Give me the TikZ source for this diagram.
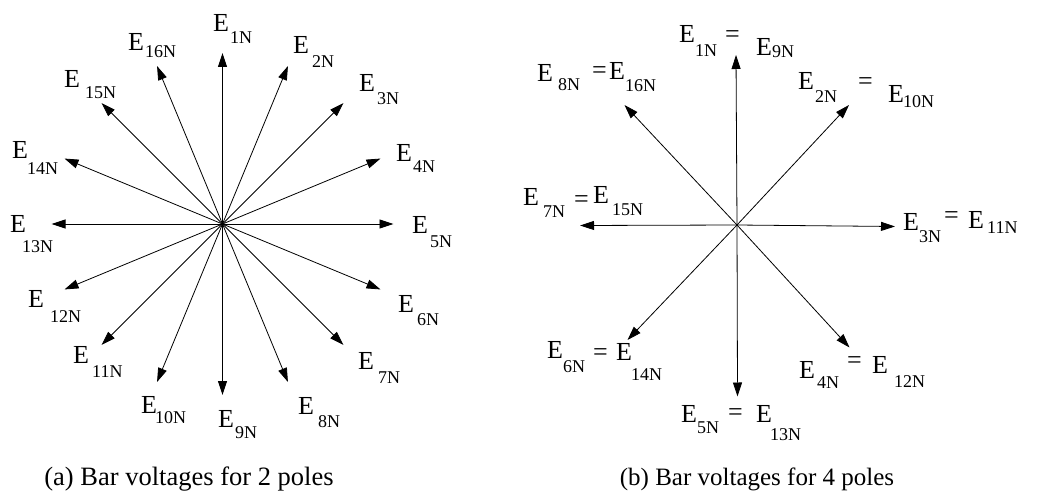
\documentclass[tikz,border=0pt]{standalone}
\usepackage{fontspec}
\setmainfont{Liberation Serif}
\usetikzlibrary{arrows.meta}
\begin{document}
\begin{tikzpicture}[x=1pt,y=-1pt,
  arr/.style={-{Triangle[length=14pt,width=9pt]}, line width=0.8pt},
  bigt/.style={font=\fontsize{26}{26}\selectfont, inner sep=0pt, anchor=base west},
  subt/.style={font=\fontsize{18}{18}\selectfont, inner sep=0pt, anchor=base west},
  capt/.style={inner sep=0pt, anchor=base}]
\useasboundingbox (0,0) rectangle (1064,497);
% ---------- (a) two poles ----------
\coordinate (c1) at (222.5,224);
\foreach \k in {1,...,16}{
  \coordinate (a\k) at ([shift={({-90+22.5*(\k-1)}:171)}]c1);
  \draw[arr] (c1) -- (a\k);
}
\foreach \k/\ex/\ey/\sx/\sy in {
  1/213/32/230/44, 2/293/54/312/68, 3/359/92/377/105, 4/396/162/413/172,
  5/412/233/430/247, 6/398/312/417/325, 7/358/369/378/383, 8/298/414/318/427,
  9/218/427/235/438, 10/141/413/155/423, 11/73/363/92/377, 12/28/307/50/322,
  13/10/232/22/252, 14/12/159/27/175, 15/64/88/85/99, 16/128/51/145/58}{
  \node[bigt] (aE\k) at (\ex,\ey) {E};
  \node[subt] (aS\k) at (\sx,\sy) {\k N};
}
\node[capt, font=\fontsize{26.5}{26.5}\selectfont] (capA) at (189,485) {(a) Bar voltages for 2 poles};
% ---------- (b) four poles ----------
\coordinate (c2) at (737,225);
\coordinate (b1) at (736,55);
\coordinate (b2) at (849,105);
\coordinate (b3) at (895,226.5);
\coordinate (b4) at (849.5,347.5);
\coordinate (b5) at (737.5,396.5);
\coordinate (b6) at (627.5,340);
\coordinate (b7) at (580,225.5);
\coordinate (b8) at (624.5,105);
\foreach \k in {1,...,8}{ \draw[arr] (c2) -- (b\k); }
\foreach \k/\ax/\ay/\sx/\sy/\sa/\qx/\qy/\bx/\by/\tx/\ty/\sb in {
  1/679/43/695/57/1N/725/43/756/56/772/58/9N,
  8/537/82/558/91/8N/592/79/609/80/625/92/16N,
  2/798/90/815/103/2N/858/90/888/103/903/108/10N,
  7/523/205/543/217/7N/574/207/593/203/612/215/15N,
  3/903/230/919/242/3N/944/223/968/228/987/233/11N,
  6/547/358/563/372/6N/593/360/616/360/631/380/14N,
  5/681/422/697/433/5N/728/420/756/422/770/440/13N,
  4/799/378/817/388/4N/847/368/872/373/894/387/12N}{
  \node[bigt] (bE\k) at (\ax,\ay) {E};
  \node[subt] (bS\k) at (\sx,\sy) {\sa};
  \node[bigt] (bQ\k) at (\qx,\qy) {=};
  \node[bigt] (bF\k) at (\bx,\by) {E};
  \node[subt] (bT\k) at (\tx,\ty) {\sb};
}
\node[capt, font=\fontsize{25}{25}\selectfont] (capB) at (757,485) {(b) Bar voltages for 4 poles};
\end{tikzpicture}
\end{document}
